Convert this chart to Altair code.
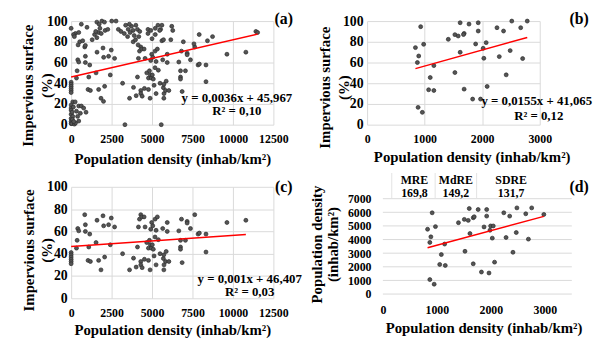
import altair as alt
import pandas as pd

FONT = "Liberation Serif"
GRID = "#D9D9D9"
XTITLE = "Population density (inhab/km²)"

# ---------------- data ----------------
# panel (c): impervious surface 25-75 % vs population density
c_points = [
    (0, 41), (0, 39), (0, 37), (0, 35), (0, 33), (0, 31),
    (330, 45), (370, 52), (410, 62.6), (470, 60.5), (840, 75), (880, 66), (880, 60),
    (1150, 57.6), (1090, 46), (1045, 34), (1190, 33), (1540, 50), (1600, 70), (1970, 74),
    (2010, 65), (1700, 34), (1845, 25.5), (2070, 37), (2315, 66), (2480, 72), (2685, 64),
    (2420, 48), (3180, 40), (3610, 25.5), (3855, 36), (4020, 28), (4100, 46), (4305, 33),
    (4305, 30), (4390, 27.5), (4160, 64), (4225, 71), (4305, 75), (4365, 73), (4510, 73),
    (4570, 64), (4530, 35), (4675, 50), (4840, 52), (4780, 34), (4880, 25.5), (4780, 45),
    (4900, 48), (4960, 45), (5020, 48), (5080, 44), (4980, 68), (5045, 65), (4920, 62),
    (5185, 71), (5330, 73), (5250, 61), (5125, 38), (5250, 30), (5185, 55), (5390, 52.6),
    (5495, 40), (5660, 62.6), (5700, 35.7), (5740, 30), (5940, 68), (5940, 60), (5875, 42),
    (5730, 39), (5835, 33), (6040, 33), (5730, 25.5), (6820, 71), (7170, 69), (7170, 67.5),
    (7640, 75), (6655, 60.5), (7375, 62.6), (7065, 52), (6760, 52), (6760, 46), (6760, 44),
    (6860, 32), (7845, 57.6), (7925, 58.5), (8335, 57.6), (8335, 41.5), (9630, 68), (10800, 70),
]
# panel (a) points above 75 %
a_upper = [
    (0, 93), (630, 97), (980, 94), (1590, 99), (1730, 97), (1900, 100), (2060, 99),
    (2510, 100), (2775, 100), (3370, 96), (3530, 92), (3730, 95), (3835, 91), (4000, 96),
    (4100, 92), (4240, 90), (4750, 92), (4920, 91), (5200, 93), (5365, 96), (5530, 92),
    (5610, 96), (265, 88), (470, 89), (530, 80), (715, 81), (1450, 87), (1590, 84),
    (1690, 89), (1860, 88), (2100, 91), (2265, 92), (2920, 92), (3080, 90), (3285, 88),
    (3490, 85), (3835, 80), (3980, 82), (4140, 77), (4750, 88), (5000, 83), (5200, 87),
    (5470, 91), (5610, 81), (430, 77), (880, 76.5), (150, 87), (200, 85), (1300, 82),
    (1520, 90), (1780, 93), (3650, 89), (3900, 86), (4180, 85), (3600, 97), (6220, 95),
    (6280, 91), (6160, 82), (5710, 82), (7915, 87), (8740, 85), (8425, 81), (7590, 78),
    (6935, 80), (11420, 90), (11525, 89),
]
# panel (a) points below 25 %
a_lower = [
    (2000, 22.5), (100, 22), (0, 19), (0, 16), (0, 14), (0, 10), (0, 6), (0, 3), (0, 1),
    (60, 12), (100, 8), (80, 5), (150, 2), (40, 1), (200, 0.5), (270, 1.5), (470, 18),
    (630, 18), (775, 16), (920, 12), (570, 11), (400, 8), (470, 3.5), (330, 13), (140, 17),
    (160, 3), (250, 22), (3325, 0), (5570, 0),
]
a_points = c_points + a_upper + a_lower

b_points = [
    (931, 94.6), (840, 74.4), (897, 66.3), (874, 60), (983, 77.6), (1097, 45.5), (1069, 33.7),
    (1160, 33), (1160, 57), (886, 16.7), (960, 11.9), (1411, 82.4), (1526, 86.9), (1583, 85.6),
    (1617, 98.4), (1617, 69.9), (1526, 50.3), (1686, 88.1), (1675, 87), (1771, 97.1),
    (1686, 34.3), (1834, 24.7), (1931, 98.4), (1931, 90.4), (1886, 77.9), (2017, 73.7),
    (2069, 79.2), (2029, 64.1), (1971, 24.7), (2086, 36.9), (2257, 93.6), (2371, 90.4),
    (2297, 65.7), (2417, 48.1), (2486, 71.5), (2514, 100), (2669, 93.6), (2703, 63.8),
    (2783, 100),
]

d_points = [
    (828, 4756), (913, 5963), (974, 4949), (889, 4200), (870, 3790), (1144, 3670),
    (1083, 2897), (1053, 2173), (1156, 2100), (870, 1062), (950, 724), (1400, 5238),
    (1509, 5480), (1582, 5407), (1600, 6276), (1613, 4442), (1521, 3138), (1674, 5600),
    (1692, 5673), (1765, 6204), (1674, 2221), (1826, 1617), (1923, 6204), (1923, 5721),
    (1874, 4925), (1984, 4683), (1996, 4997), (2045, 4997), (2027, 4104), (1966, 1545),
    (2069, 2342), (2240, 5963), (2349, 5721), (2282, 4152), (2471, 4514), (2410, 3066),
    (2483, 6324), (2647, 5890), (2696, 4031), (2757, 6324), (2982, 5842),
]

# trend lines: [slope, intercept], x range
a_fit = [0.0036, 45.967]
a_fit_x = [0, 11525]
b_fit = [0.0155, 41.065]
b_fit_x = [840, 2783]
c_fit = [0.001, 46.407]
c_fit_x = [0, 10800]
d_fit_x = [828, 2982]
d_fit_y = [3400, 5700]

a_eq = ["y = 0,0036x + 45,967", "R² = 0,10"]
b_eq = ["y = 0,0155x + 41,065", "R² = 0,12"]
c_eq = ["y = 0,001x + 46,407", "R² = 0,03"]
d_table_head = ["MRE", "MdRE", "SDRE"]
d_table_vals = ["169,8", "149,2", "131,7"]

pct_ticks = [0, 20, 40, 60, 80, 100]
dens_ticks_big = [0, 2500, 5000, 7500, 10000, 12500]
dens_ticks_small = [0, 1000, 2000, 3000]
d_y_ticks = [0, 1000, 2000, 3000, 4000, 5000, 6000, 7000]


def df_points(p):
    return pd.DataFrame(p, columns=["x", "y"])


def fit_df(xs, coef):
    return pd.DataFrame({"x": xs, "y": [coef[0] * v + coef[1] for v in xs]})


def text_layer(txt, px, py, size, align="center"):
    return alt.Chart(pd.DataFrame({"t": [txt]})).mark_text(
        font=FONT, fontWeight="bold", fontSize=size, align=align,
        baseline="middle", color="black"
    ).encode(text="t:N", x=alt.value(px), y=alt.value(py))


def panel(points, line_df, xdom, ydom, w, h, xvals, yvals, xgrid, ygrid,
          ytitle, xt, yt, ylab_pad, xlab_pad, texts, pre_layers=(), post_layers=(),
          ylab_size=14, title_lh=19):
    xs = alt.Scale(domain=xdom, nice=False, zero=False)
    ys = alt.Scale(domain=ydom, nice=False, zero=False)
    xa = alt.Axis(values=xvals, grid=xgrid, gridColor=GRID, gridWidth=1, domain=False,
                  ticks=False, format="d", labelFont=FONT, labelFontSize=12,
                  labelFontWeight="bold", labelColor="black", labelPadding=xlab_pad,
                  labelFlush=False, labelOverlap=False, title=XTITLE, titleFont=FONT,
                  titleFontSize=15, titleFontWeight="bold", titleColor="black",
                  titleBaseline="middle", titleAlign="center", titleX=xt[0], titleY=xt[1])
    ya = alt.Axis(values=yvals, grid=ygrid, gridColor=GRID, gridWidth=1, domain=False,
                  ticks=False, format="d", labelFont=FONT, labelFontSize=ylab_size,
                  labelFontWeight="bold", labelColor="black", labelPadding=ylab_pad,
                  labelFlush=False, labelOverlap=False, title=ytitle, titleFont=FONT,
                  titleFontSize=15, titleFontWeight="bold", titleColor="black",
                  titleAngle=270, titleAlign="center", titleBaseline="middle",
                  titleLineHeight=title_lh, titleX=yt[0], titleY=yt[1])
    X = alt.X("x:Q", scale=xs, axis=xa)
    Y = alt.Y("y:Q", scale=ys, axis=ya)
    layers = []
    for pl in pre_layers:
        layers.append(pl(xs, ys, xa, ya))
    layers.append(alt.Chart(df_points(points)).mark_point(
        shape="circle", filled=True, size=16, fill="#555555", stroke="#2b2b2b",
        strokeWidth=0.7, opacity=1).encode(x=X, y=Y))
    layers.append(alt.Chart(line_df).mark_line(color="#FF0000", strokeWidth=1.5).encode(x=X, y=Y))
    layers += texts
    layers += list(post_layers)
    return alt.layer(*layers).properties(width=w, height=h)


imp_title = ["Impervious surface", "(%)"]

pa = panel(a_points, fit_df(a_fit_x, a_fit), [0, 12500], [0, 100], 205, 105,
           dens_ticks_big, pct_ticks, True, True, imp_title, (102.5, 34), (-44, 65), 4, 9,
           [text_layer("(a)", 215.5, -2, 16), text_layer(a_eq[0], 168, 77.7, 13),
            text_layer(a_eq[1], 168, 91, 13)])

pb = panel(b_points, fit_df(b_fit_x, b_fit), [0, 3000], [0, 100], 175, 105,
           dens_ticks_small, pct_ticks, True, True, imp_title, (106, 32.7), (-43, 67), 4, 9,
           [text_layer("(b)", 215, -2, 16), text_layer(b_eq[0], 172, 81, 13),
            text_layer(b_eq[1], 174, 96, 13)])

pc = panel(c_points, fit_df(c_fit_x, c_fit), [0, 12500], [0, 100], 205, 113,
           dens_ticks_big, pct_ticks, True, True, imp_title, (102.5, 31.7), (-43.5, 64), 4, 9,
           [text_layer("(c)", 215.5, 0, 16), text_layer(c_eq[0], 181, 93, 13),
            text_layer(c_eq[1], 181, 106.3, 13)])

d_grid = pd.DataFrame({"gx0": [0] * len(d_y_ticks), "gx1": [3500] * len(d_y_ticks),
                       "gy": d_y_ticks})


def d_grid_layer(xs, ys, xa, ya):
    return alt.Chart(d_grid).mark_rule(color=GRID, strokeWidth=1).encode(
        x=alt.X("gx0:Q", scale=xs, axis=xa), x2="gx1:Q",
        y=alt.Y("gy:Q", scale=ys, axis=ya))


def vline(px):
    return alt.Chart(pd.DataFrame({"v": [0]})).mark_rule(color="#E3E3E3", strokeWidth=1).encode(
        x=alt.value(px), y=alt.value(-14), y2=alt.value(12))


d_texts = []
for i, (hx) in enumerate([48, 90, 146]):
    d_texts.append(text_layer(d_table_head[i], hx, -7, 12))
    d_texts.append(text_layer(d_table_vals[i], hx, 6.3, 12))
d_texts.append(text_layer("(d)", 215, 0, 16))

pd_ = panel(d_points, pd.DataFrame({"x": d_fit_x, "y": d_fit_y}), [-292.5, 3500], [-311, 7870],
            207.5, 113, dens_ticks_small, d_y_ticks, False, False,
            ["Population density", "(inhab/km²)"], (118, 30), (-51, 58), -4, 6,
            d_texts, pre_layers=[d_grid_layer], post_layers=[vline(25), vline(69), vline(111)],
            ylab_size=12, title_lh=16)

chart = alt.concat(
    pa, pb, pc, pd_, columns=2, spacing={"row": 63, "column": 95},
    bounds="flush", align="each"
).properties(
    autosize=alt.AutoSizeParams(type="none"),
    padding={"left": 64, "top": 11, "right": 530, "bottom": 320},
).configure_view(stroke=None)

chart.save("out.html", embed_options={"renderer": "svg", "actions": False})
